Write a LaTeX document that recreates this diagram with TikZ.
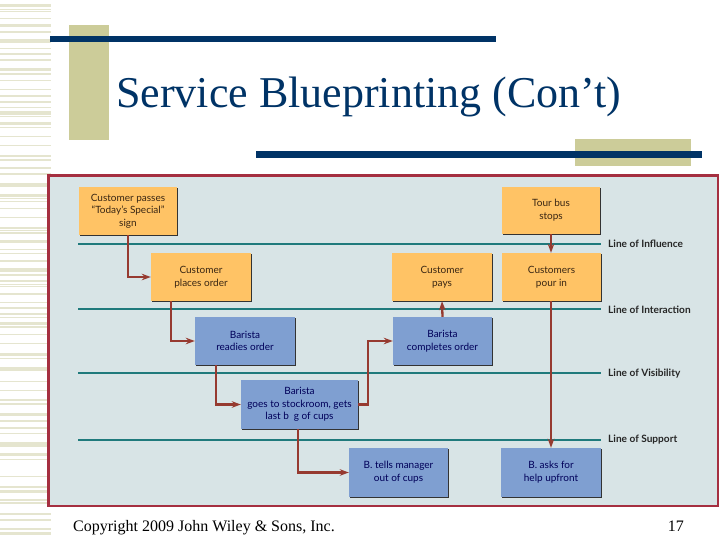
\documentclass[tikz,border=0pt]{standalone}
\usepackage{fontspec}
\setmainfont{Liberation Serif}
\newfontfamily\boxfont{Lato}
\usetikzlibrary{shadows}
\usetikzlibrary{arrows.meta}
\definecolor{colorNavy}{HTML}{003366}
\definecolor{colorKhaki}{HTML}{CCCC99}
\definecolor{colorStripe}{HTML}{E5E5CF}
\definecolor{colorPanel}{HTML}{D8E4E6}
\definecolor{colorFrame}{HTML}{A52F40}
\definecolor{colorLine}{HTML}{1F7A7C}
\definecolor{colorFlow}{HTML}{963A30}
\definecolor{colorFront}{HTML}{FFC365}
\definecolor{colorBack}{HTML}{7F9FD1}
\tikzset{
   every path/.style={>={Stealth[length=9pt,width=6.5pt]}},
   stepFront/.style={rectangle,fill=colorFront,text=black!70!brown,font=\boxfont\fontsize{10}{12.7}\selectfont,
     align=center,inner sep=0pt,drop shadow={shadow xshift=1.3pt,shadow yshift=-1.3pt,fill=black!80,opacity=1}},
   stepBack/.style={stepFront,fill=colorBack,text=black!65!blue},
   divider/.style={color=colorLine,line width=2.3pt},
   divlabel/.style={anchor=west,inner sep=0pt,text=black!85,font=\boxfont\bfseries\fontsize{10.1}{12}\selectfont},
   flow/.style={->,color=colorFlow,line width=2.3pt},
   bar/.style={fill=colorNavy},
   block/.style={fill=colorKhaki},
}
\begin{document}
\begin{tikzpicture}[x=1pt,y=-1pt]
  \useasboundingbox (0,0) rectangle (720,540);

  % stripes down the left edge
  \foreach \sy/\sh in {4/3.3,9/1,11/1,18/1,24/3.3,31.3/1.7,39.3/3.7,48/1,52.7/2.3,58.7/2,68/3.3,72.7/2,80/1,89/1,95/2,101/2,107/1,111/3.7,116/1,122/3,126.7/1,136/1,145/1,155/2.3,159/2.3,167/2,173/2,
    183.3/3.3,194/2.7,198.3/1,201/1,208/1,217/1,227/2,230/1,232/2,240/3.3,249/1,253/1,260/2,268/4,274/2,280/2,284/1,286/1,293/2,302/1,307/2,313/2,317/1,322/3,326/2,334/1,343/1,353/3,358/1,
    367/4,381/1,390/1,399/2,403/2,413/3,420/2,427/2,433/1,442/5,453/3,459/1,476/1,486/2,490/3,499/2,502/2,513/2,519/2,528/2,532/3}
    \fill[colorStripe] (0,\sy) rectangle (51,\sy+\sh);

  \fill[block] (69,25) rectangle (109,140);
  \fill[block] (575,139) rectangle (691,166);
  \fill[bar] (50,36) rectangle (496,42);
  \fill[bar] (256,151) rectangle (702,158);

  \node[anchor=base west,inner sep=0pt,text=colorNavy,font=\fontsize{44}{50}\selectfont] (title) at (116,108) {Service Blueprinting (Con’t)};

  \draw[colorFrame,line width=2.6pt,fill=colorPanel] (48.5,175.5) rectangle (718,506);

  \coordinate (infl)  at (78,244);
  \coordinate (inter) at (78,309);
  \coordinate (visi)  at (78,373);
  \coordinate (supp)  at (78,440);

  \node[divlabel] (linfl)  at (608,244) {Line of Influence};
  \node[divlabel] (linter) at (608,310) {Line of Interaction};
  \node[divlabel] (lvisi)  at (608,373.5) {Line of Visibility};
  \node[divlabel] (lsupp)  at (608,439.5) {Line of Support};

  \coordinate (inflEnd)  at (601,244);
  \coordinate (interEnd) at (601,309);
  \coordinate (visiEnd)  at (601,373);
  \coordinate (suppEnd)  at (601,440);

  \draw[divider] (infl)  -- (inflEnd);
  \draw[divider] (inter) -- (interEnd);
  \draw[divider] (visi)  -- (visiEnd);
  \draw[divider] (supp)  -- (suppEnd);

  \node[stepFront,minimum width=98pt,minimum height=48pt]  (passes) at (128,211)   {Customer passes\\“Today’s Special”\\sign};
  \node[stepFront,minimum width=100pt,minimum height=48pt] (places) at (201,277)   {Customer\\places order};
  \node[stepFront,minimum width=100pt,minimum height=48pt] (pays)   at (442,277)   {Customer\\pays};
  \node[stepFront,minimum width=98pt,minimum height=47pt]  (tour)   at (551,210.5) {Tour bus\\stops};
  \node[stepFront,minimum width=99pt,minimum height=48pt]  (pour)   at (551.5,277) {Customers\\pour in};

  \node[stepBack,minimum width=100pt,minimum height=48pt]  (readies)   at (245,341)     {Barista\\readies order};
  \node[stepBack,minimum width=99pt,minimum height=48pt]   (completes) at (442.5,341)   {Barista\\completes order};
  \node[stepBack,minimum width=117pt,minimum height=49pt]  (stock)     at (299.5,404.5) {Barista\\goes to stockroom, gets\\last b\hspace{0.5em}g of cups};
  \node[stepBack,minimum width=99pt,minimum height=49pt]   (tells)     at (398.5,472.5) {B. tells manager\\out of cups};
  \node[stepBack,minimum width=100pt,minimum height=49pt]  (asks)      at (551,472.5)   {B. asks for\\help upfront};

  \draw[flow] (128,235) |- (places.west);
  \draw[flow] (171,301) |- (readies.west);
  \draw[flow] (216,365) |- (stock.west);
  \draw[flow] (stock.east) -- (368,404.5) |- (completes.west);
  \draw[flow] (298,429) |- (tells.west);
  \draw[flow] (completes.north) -- (pays.south);
  \draw[flow] (tour.south) -- (pour.north -| tour.south);
  \draw[flow] (pour.south -| asks.north) -- (asks.north);

  \node[anchor=base west,inner sep=0pt,font=\fontsize{16}{18}\selectfont] (copy) at (73,531) {Copyright 2009 John Wiley \& Sons, Inc.};
  \node[anchor=base east,inner sep=0pt,font=\fontsize{16}{18}\selectfont] (page) at (684,531) {17};
\end{tikzpicture}
\end{document}
